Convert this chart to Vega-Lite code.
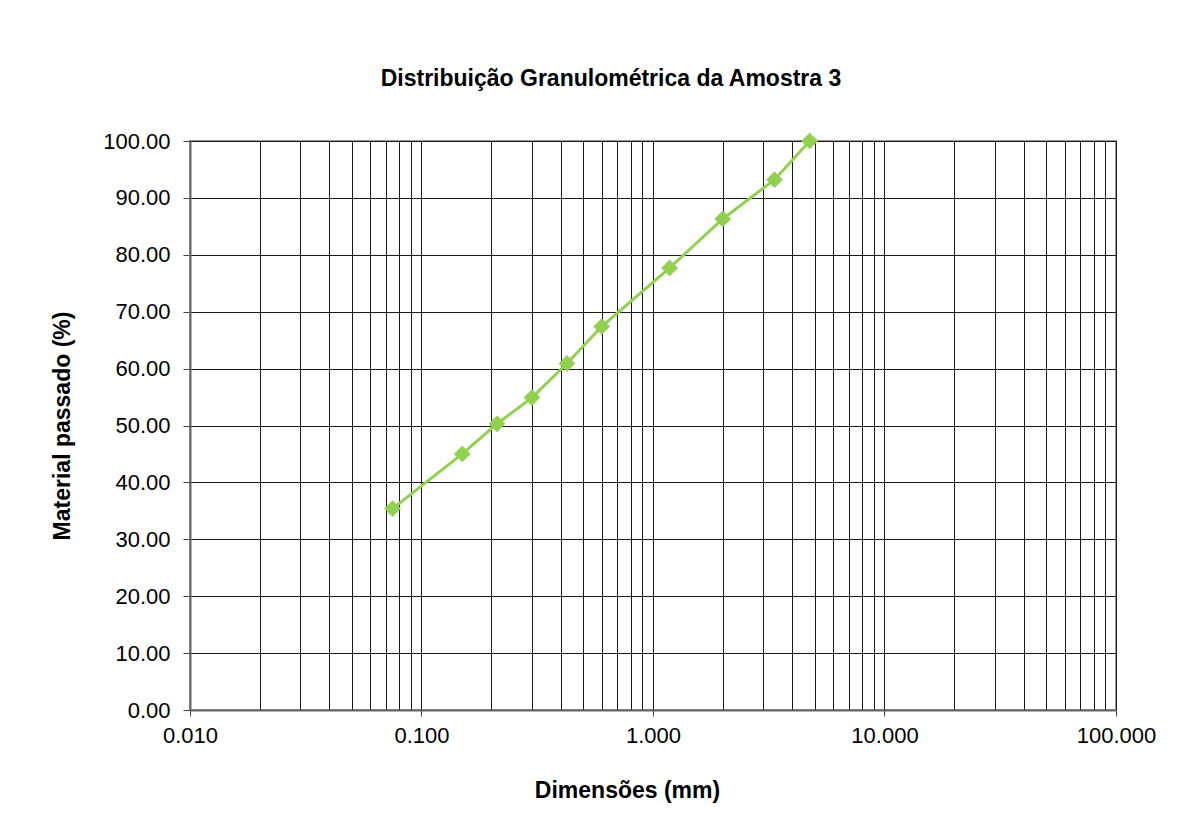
{
  "$schema": "https://vega.github.io/schema/vega-lite/v6.json",
  "width": 926,
  "height": 569,
  "autosize": {"type": "none"},
  "padding": {"left": 190, "top": 141, "right": 62, "bottom": 130},
  "background": "white",
  "config": {
    "font": "Liberation Sans",
    "view": {"stroke": "#999999", "strokeWidth": 2},
    "axis": {
      "labelFont": "Liberation Sans",
      "titleFont": "Liberation Sans",
      "labelColor": "#000000",
      "titleColor": "#000000",
      "labelFontSize": 22,
      "titleFontSize": 23,
      "titleFontWeight": "bold",
      "gridColor": "#1a1a1a",
      "gridOpacity": 1,
      "gridWidth": 1,
      "domainColor": "#666666",
      "domainWidth": 2,
      "tickColor": "#444444",
      "tickWidth": 1
    }
  },
  "title": {
    "text": "Distribuição Granulométrica da Amostra 3",
    "font": "Liberation Sans",
    "fontSize": 23,
    "fontWeight": "bold",
    "color": "#000000",
    "anchor": "middle",
    "frame": "group",
    "dx": -42,
    "offset": 39
  },
  "data": {
    "values": [
      {"size": 0.075, "passed": 35.4},
      {"size": 0.15, "passed": 45.0},
      {"size": 0.212, "passed": 50.3},
      {"size": 0.3, "passed": 54.9},
      {"size": 0.425, "passed": 60.9},
      {"size": 0.6, "passed": 67.4},
      {"size": 1.18, "passed": 77.7},
      {"size": 2.0, "passed": 86.3},
      {"size": 3.35, "passed": 93.2},
      {"size": 4.75, "passed": 100.0}
    ]
  },
  "mark": {
    "type": "line",
    "color": "#92D050",
    "strokeWidth": 3,
    "point": {"shape": "diamond", "size": 280, "filled": true, "color": "#92D050", "opacity": 1}
  },
  "encoding": {
    "x": {
      "field": "size",
      "type": "quantitative",
      "scale": {"type": "log", "domain": [0.01, 100], "nice": false},
      "axis": {
        "title": "Dimensões (mm)",
        "titleX": 437,
        "titleY": 80,
        "titleBaseline": "middle",
        "values": [0.01, 0.02, 0.03, 0.04, 0.05, 0.06, 0.07, 0.08, 0.09, 0.1, 0.2, 0.3, 0.4, 0.5, 0.6, 0.7, 0.8, 0.9, 1, 2, 3, 4, 5, 6, 7, 8, 9, 10, 20, 30, 40, 50, 60, 70, 80, 90, 100],
        "labelExpr": "abs(log(datum.value)/LN10 - round(log(datum.value)/LN10)) < 0.000001 ? format(datum.value, '.3f') : ''",
        "tickOpacity": {"condition": {"test": "abs(log(datum.value)/LN10 - round(log(datum.value)/LN10)) < 0.000001", "value": 1}, "value": 0},
        "tickSize": 6,
        "labelPadding": 9,
        "labelFlush": false,
        "labelOverlap": false,
        "grid": true
      }
    },
    "y": {
      "field": "passed",
      "type": "quantitative",
      "scale": {"domain": [0, 100], "nice": false},
      "axis": {
        "title": "Material passado (%)",
        "titleX": -128,
        "titleBaseline": "middle",
        "values": [0, 10, 20, 30, 40, 50, 60, 70, 80, 90, 100],
        "format": ".2f",
        "tickSize": 7,
        "labelPadding": 13,
        "grid": true
      }
    }
  }
}
